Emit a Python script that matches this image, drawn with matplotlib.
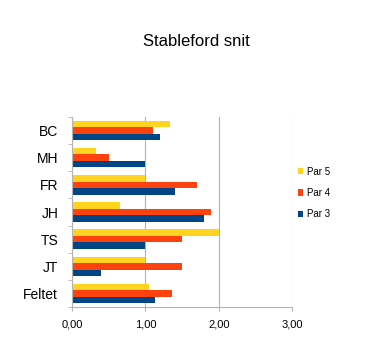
import numpy as np
import matplotlib
matplotlib.use("Agg")
import matplotlib.pyplot as plt
from matplotlib.ticker import FixedLocator, FuncFormatter

plt.rcParams['font.family'] = ['Liberation Sans', 'DejaVu Sans']

# Stableford average per player and hole par
players = ["BC", "MH", "FR", "JH", "TS", "JT", "Feltet"]
par5 = [1.33, 0.32, 1.00, 0.66, 2.00, 1.00, 1.05]
par4 = [1.10, 0.50, 1.70, 1.90, 1.50, 1.50, 1.36]
par3 = [1.20, 1.00, 1.40, 1.80, 1.00, 0.40, 1.13]

series = [("Par 5", par5, "#ffd320"),
          ("Par 4", par4, "#ff420e"),
          ("Par 3", par3, "#004586")]

fig = plt.figure(figsize=(3.66, 3.47), dpi=100)
ax = fig.add_axes([0.197, 0.115, 0.601, 0.548])

y = np.arange(len(players))[::-1].astype(float)
h = 0.24
for k, (name, vals, col) in enumerate(series):
    ax.barh(y + (1 - k) * h, vals, height=h, color=col, label=name, zorder=2)

ax.set_xlim(0, 3)
ax.set_ylim(-0.5, len(players) - 0.5)
ax.set_xticks([0, 1, 2, 3])
ax.xaxis.set_major_formatter(FuncFormatter(lambda v, _: f"{v:.2f}".replace(".", ",")))
ax.set_yticks(y)
ax.set_yticklabels(players, fontsize=10)
ax.yaxis.set_minor_locator(FixedLocator(np.arange(-0.5, len(players), 1.0)))
ax.tick_params(axis="y", which="major", length=0, pad=10)
ax.tick_params(axis="y", which="minor", length=3, color="#b3b3b3")
ax.tick_params(axis="x", length=3, color="#b3b3b3", labelsize=8, pad=6)

ax.grid(axis="x", color="#b3b3b3", lw=0.8, zorder=0)
for s in ("top", "right"):
    ax.spines[s].set_visible(False)
for s in ("left", "bottom"):
    ax.spines[s].set_color("#b3b3b3")
    ax.spines[s].set_linewidth(0.8)

fig.text(0.536, 0.879, "Stableford snit", ha="center", va="center", fontsize=12)

leg = ax.legend(loc="center left", bbox_to_anchor=(0.985, 0.60), frameon=False,
                fontsize=7, handlelength=0.6, handleheight=0.6,
                handletextpad=0.4, labelspacing=1.15)

fig.savefig("out.png", dpi=100)
